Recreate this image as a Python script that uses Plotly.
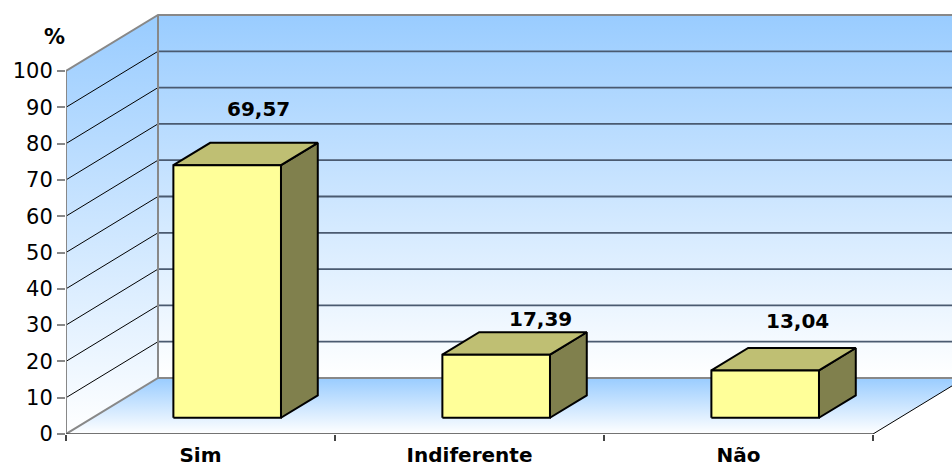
import plotly.graph_objects as go

# ---- data ----
categories = ["Sim", "Indiferente", "Não"]
values = [69.57, 17.39, 13.04]
value_labels = ["69,57", "17,39", "13,04"]
y_ticks = [0, 10, 20, 30, 40, 50, 60, 70, 80, 90, 100]

# ---- layout / projection parameters (oblique 3D look) ----
W, H = 952, 468
ML, MB = 66, 34
PX_PER_CAT = 269.0
PX_PER_VAL = 3.63
X_MAX = (W - ML) / PX_PER_CAT
Y_MAX = (H - MB) / PX_PER_VAL
DX = 92 / PX_PER_CAT      # depth offset along x (category units)
DY = 56 / PX_PER_VAL      # depth offset along y (value units)
D0, D1 = 0.29, 0.69       # bar front/back depth fractions
HW = 0.2                  # bar half width (category units)
FONT = "DejaVu Sans"

FRONT = "#FFFF99"
TOP = "#BFBF73"
SIDE = "#80804D"
BLUE = "#99CCFF"
FRAME = "#888888"

fig = go.Figure()

def poly(xs, ys, **kw):
    fig.add_trace(go.Scatter(x=list(xs) + [xs[0]], y=list(ys) + [ys[0]],
                             mode="lines", fill="toself", hoverinfo="skip",
                             showlegend=False, **kw))

def line(xs, ys, color, width):
    fig.add_trace(go.Scatter(x=xs, y=ys, mode="lines", hoverinfo="skip",
                             showlegend=False,
                             line=dict(color=color, width=width)))

vmax = y_ticks[-1]
n = len(categories)
grad = dict(type="vertical", colorscale=[[0, "#FFFFFF"], [1, BLUE]])

# back wall
poly([DX, X_MAX + 1, X_MAX + 1, DX], [DY, DY, vmax + DY, vmax + DY],
     line=dict(width=0), fillgradient=grad)
# left wall
poly([0, 0, DX, DX], [0, vmax, vmax + DY, DY],
     line=dict(width=0), fillgradient=grad)
# floor
poly([0, n, n + DX, DX], [0, 0, DY, DY],
     line=dict(width=0), fillgradient=grad)

# back wall grid lines
gx, gy = [], []
for v in y_ticks[1:-1]:
    gx += [DX, X_MAX + 1, None]
    gy += [v + DY, v + DY, None]
line(gx, gy, "#4A5A70", 1.8)
# left wall grid lines
lx, ly = [], []
for v in y_ticks[1:-1]:
    lx += [0, DX, None]
    ly += [v, v + DY, None]
line(lx, ly, "#000000", 1)

# frame edges
line([0, DX, X_MAX + 1], [vmax, vmax + DY, vmax + DY], FRAME, 2)       # top
line([DX, DX], [DY, vmax + DY], FRAME, 2)                               # back-left vertical
line([0, DX, X_MAX + 1], [0, DY, DY], FRAME, 2)                         # floor left + back
line([0, 0], [0, vmax], FRAME, 2)                                       # front value axis
line([0, n], [0, 0], "#444444", 1.5)                                    # floor front edge
line([n, n + DX], [0, DY], "#000000", 1)                                # floor right edge

# bars
for i, v in enumerate(values):
    c = i + 0.5
    xl0, xr0 = c - HW + D0 * DX, c + HW + D0 * DX
    xl1, xr1 = c - HW + D1 * DX, c + HW + D1 * DX
    yb0, yb1 = D0 * DY, D1 * DY
    yt0, yt1 = v + D0 * DY, v + D1 * DY
    edge = dict(color="#000000", width=2)
    poly([xr0, xr1, xr1, xr0], [yb0, yb1, yt1, yt0], fillcolor=SIDE, line=edge)
    poly([xl0, xr0, xr1, xl1], [yt0, yt0, yt1, yt1], fillcolor=TOP, line=edge)
    poly([xl0, xr0, xr0, xl0], [yb0, yb0, yt0, yt0], fillcolor=FRONT, line=edge)

# value labels (placed above the back top edge of each bar)
label_shift = [(-5, 34), (8, 13), (-4, 27)]
for i, (v, t) in enumerate(zip(values, value_labels)):
    c = i + 0.5
    fig.add_annotation(x=c + D1 * DX, y=v + D1 * DY, text=t, showarrow=False,
                       xanchor="center", yanchor="middle",
                       xshift=label_shift[i][0], yshift=label_shift[i][1],
                       font=dict(family=FONT, size=20, color="#000000", weight="bold"))

# axis title "%"
fig.add_annotation(xref="paper", yref="paper",
                   x=-12 / (W - ML), y=1 - 37.5 / (H - MB), text="<b>%</b>",
                   showarrow=False, xanchor="center", yanchor="middle",
                   font=dict(family=FONT, size=21, color="#000000"))

fig.update_layout(
    template="none",
    width=W, height=H, autosize=False,
    margin=dict(l=ML, r=0, t=0, b=MB, pad=0, autoexpand=False),
    paper_bgcolor="white", plot_bgcolor="white",
    showlegend=False,
    xaxis=dict(range=[0, X_MAX], showgrid=False, zeroline=False, showline=False,
               automargin=False,
               tickmode="array", tickvals=[i + 0.5 for i in range(n)],
               ticktext=[f"<b>{c}</b>" for c in categories],
               ticks="outside", ticklen=3, tickcolor="rgba(0,0,0,0)",
               tickfont=dict(family=FONT, size=20, color="#000000"),
               minor=dict(tickmode="array", tickvals=list(range(n + 1)),
                          ticks="outside", ticklen=6, tickcolor="#444444", tickwidth=1.5,
                          showgrid=False),
               fixedrange=True),
    yaxis=dict(range=[0, Y_MAX], showgrid=False, zeroline=False, showline=False,
               automargin=False,
               tickmode="array", tickvals=y_ticks,
               ticks="outside", ticklen=8, tickcolor=FRAME, tickwidth=1.5,
               tickfont=dict(family=FONT, size=21, color="#000000"),
               fixedrange=True),
)

fig.write_html("out.html", config={"displayModeBar": False},
               post_script="document.body.style.margin='0';document.body.style.overflow='hidden';")
